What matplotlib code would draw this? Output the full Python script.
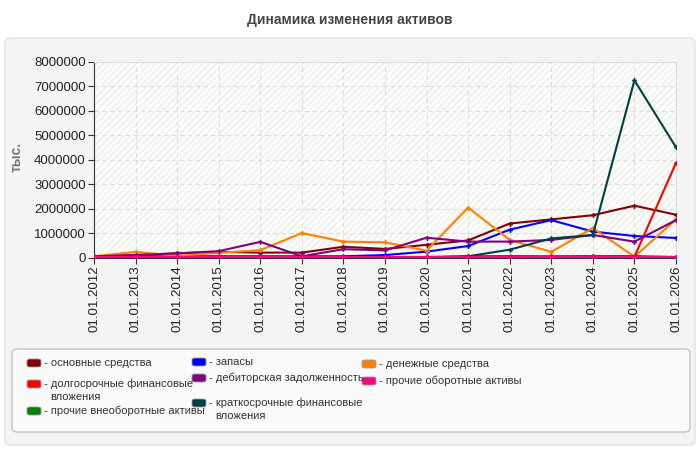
import numpy as np
import matplotlib.pyplot as plt
from matplotlib.patches import FancyBboxPatch, Rectangle

plt.rcParams['font.family'] = ['Liberation Sans', 'DejaVu Sans']

years = ["01.01.%d" % y for y in range(2012, 2027)]

# значения, тыс.
osnovnye = [30000, 100000, 170000, 230000, 200000, 200000, 440000, 350000, 520000, 700000, 1390000, 1560000, 1730000, 2120000, 1750000]
zapasy = [40000, 50000, 50000, 50000, 50000, 50000, 50000, 100000, 240000, 470000, 1140000, 1530000, 1060000, 880000, 800000]
denezhnye = [50000, 230000, 70000, 190000, 300000, 1000000, 650000, 620000, 280000, 2040000, 720000, 230000, 1210000, 30000, 1560000]
dolgosrochnye = [0, 0, 0, 0, 0, 0, 0, 0, 0, 50000, 60000, 50000, 50000, 30000, 3870000]
debitorskaya = [50000, 100000, 170000, 260000, 640000, 50000, 340000, 290000, 810000, 650000, 650000, 720000, 920000, 650000, 1530000]
prochie_ob = [10000, 10000, 10000, 10000, 10000, 10000, 10000, 10000, 10000, 10000, 10000, 10000, 10000, 10000, 10000]
prochie_vneob = [0, 0, 0, 0, 0, 20000, 20000, 20000, 20000, 20000, 30000, 40000, 60000, 60000, 20000]
kratkosrochnye = [0, 0, 0, 0, 0, 0, 0, 0, 20000, 50000, 320000, 780000, 920000, 7250000, 4510000]

names = ["основные средства", "запасы", "денежные средства",
         "долгосрочные финансовые\nвложения", "дебиторская задолженность", "прочие оборотные активы",
         "прочие внеоборотные активы", "краткосрочные финансовые\nвложения"]
series = [osnovnye, zapasy, denezhnye, dolgosrochnye, debitorskaya, prochie_ob, prochie_vneob, kratkosrochnye]
colors = ["#800000", "#0000ff", "#ff8000", "#ff0000", "#800080", "#ff0080", "#008000", "#004040"]

W, H = 700, 450
fig = plt.figure(figsize=(7, 4.5), dpi=100)
fig.patch.set_facecolor("white")

# серая панель
fig.patches.append(FancyBboxPatch((5 / W, 5 / H), 690 / W, 407 / H,
                                  boxstyle="round,pad=0,rounding_size=0.01",
                                  transform=fig.transFigure, facecolor="#f4f4f4",
                                  edgecolor="#e2e2e2", lw=1, zorder=-2))

fig.text(0.5, 1 - 20 / H, "Динамика изменения активов", ha="center", va="center",
         fontsize=10, fontweight="bold", color="#444444")

ax = fig.add_axes([94 / W, 1 - 257.5 / H, 582 / W, 195.5 / H])
ax.set_zorder(5)
ax.set_facecolor("#fcfcf8")
ax.add_patch(Rectangle((0, 0), 1, 1, transform=ax.transAxes, facecolor="none",
                       edgecolor="#eeeeee", hatch="/////", lw=0, zorder=0))

x = np.arange(len(years))
for vals, c in zip(series, colors):
    ax.plot(x, vals, color=c, lw=1.5, marker="P", ms=3.5, mew=0, zorder=3)
# розовая линия поверх
ax.plot(x, prochie_ob, color=colors[5], lw=1.5, marker="P", ms=3.5, mew=0, zorder=4)

ax.set_xlim(0, len(years) - 1)
ax.set_ylim(0, 8000000)
ax.set_yticks(np.arange(0, 8000001, 1000000))
ax.set_yticklabels(["%d" % v for v in np.arange(0, 8000001, 1000000)], fontsize=9.5, color="#222222")
ax.set_xticks(x)
ax.set_xticklabels(years, rotation=90, fontsize=9.5, color="#222222")
ax.grid(True, color="#dddddd", ls=(0, (4, 3)), lw=0.8)
ax.set_axisbelow(True)
for s in ["top", "right"]:
    ax.spines[s].set_color("#dddddd")
for s in ["left", "bottom"]:
    ax.spines[s].set_color("#333333")
ax.tick_params(length=4, color="#333333", pad=2)

fig.text(17 / W, 1 - 157 / H, "тыс.", rotation=90, ha="center", va="center",
         fontsize=10, fontweight="bold", color="#777777")

# легенда
fig.patches.append(FancyBboxPatch((12 / W, 1 - 432 / H), 678 / W, 83 / H,
                                  boxstyle="round,pad=0,rounding_size=0.008",
                                  transform=fig.transFigure, facecolor="#fafafa",
                                  edgecolor="#b8b8b8", lw=0.8, zorder=-1))
col_x = [27, 192, 362]
row_y = [[363, 384, 411], [362, 378, 403], [364, 381]]
order = [[0, 3, 6], [1, 4, 7], [2, 5]]
for ci, idxs in enumerate(order):
    for ri, i in enumerate(idxs):
        yy = row_y[ci][ri]
        px = col_x[ci]
        fig.patches.append(FancyBboxPatch((px / W, 1 - (yy + 4) / H), 14 / W, 8 / H,
                                          boxstyle="round,pad=0,rounding_size=0.004",
                                          transform=fig.transFigure, facecolor=colors[i],
                                          edgecolor="#999999", lw=0.6, zorder=0))
        lines = names[i].split("\n")
        fig.text((px + 17) / W, 1 - yy / H, "- " + lines[0], ha="left", va="center",
                 fontsize=8, color="#333333")
        for k, ln in enumerate(lines[1:]):
            fig.text((px + 23) / W, 1 - (yy + 13 * (k + 1)) / H, ln, ha="left", va="center",
                     fontsize=8, color="#333333")

fig.savefig("out.png", dpi=100, facecolor=fig.get_facecolor())
